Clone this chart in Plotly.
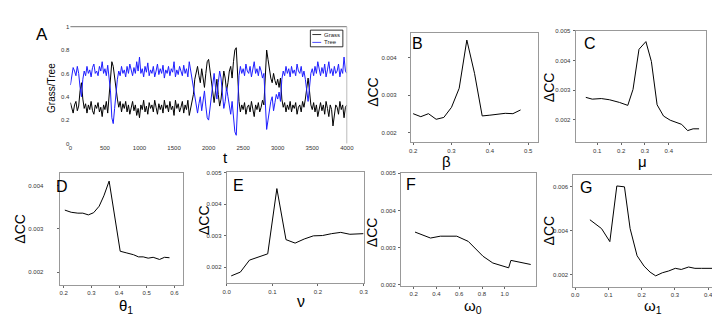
import plotly.graph_objects as go

W, H = 720, 317

# ---------------- data ----------------
t = list(range(0, 4001, 20))
tree = [
    0.50, 0.60, 0.65, 0.62, 0.58, 0.66, 0.60, 0.48, 0.40, 0.55,
    0.62, 0.58, 0.66, 0.60, 0.63, 0.57, 0.65, 0.68, 0.60, 0.62,
    0.58, 0.66, 0.62, 0.70, 0.60, 0.64, 0.58, 0.67, 0.55, 0.45,
    0.22, 0.17, 0.30, 0.45, 0.55, 0.62, 0.58, 0.66, 0.60, 0.63,
    0.57, 0.66, 0.60, 0.68, 0.62, 0.58, 0.65, 0.60, 0.70, 0.62,
    0.74, 0.60, 0.64, 0.57, 0.66, 0.61, 0.69, 0.58, 0.63, 0.60,
    0.66, 0.57, 0.62, 0.68, 0.59, 0.64, 0.60, 0.67, 0.56, 0.63,
    0.60, 0.66, 0.58, 0.64, 0.61, 0.70, 0.57, 0.63, 0.59, 0.66,
    0.62, 0.58, 0.67, 0.60, 0.64, 0.57, 0.70, 0.62, 0.58, 0.50,
    0.38, 0.30, 0.26, 0.34, 0.40, 0.28, 0.36, 0.45, 0.32, 0.22,
    0.20, 0.30, 0.42, 0.55, 0.60, 0.48, 0.38, 0.52, 0.62, 0.56,
    0.40, 0.30, 0.36, 0.48, 0.40, 0.30, 0.25, 0.36, 0.22, 0.10,
    0.07, 0.35, 0.58, 0.66, 0.60, 0.64, 0.58, 0.68, 0.62, 0.60,
    0.66, 0.57, 0.63, 0.70, 0.60, 0.64, 0.58, 0.66, 0.62, 0.56,
    0.60, 0.40, 0.12, 0.20, 0.30, 0.36, 0.40, 0.28, 0.35, 0.42,
    0.38, 0.44, 0.36, 0.55, 0.62, 0.58, 0.66, 0.60, 0.64, 0.57,
    0.66, 0.60, 0.63, 0.58, 0.68, 0.62, 0.60, 0.66, 0.57, 0.62,
    0.55, 0.42, 0.36, 0.48, 0.60, 0.64, 0.58, 0.66, 0.60, 0.70,
    0.62, 0.58, 0.65, 0.60, 0.68, 0.57, 0.63, 0.70, 0.60, 0.64,
    0.58, 0.66, 0.60, 0.62, 0.68, 0.57, 0.64, 0.60, 0.74, 0.62,
    0.60,
]
grass = [
    0.35, 0.30, 0.26, 0.33, 0.36, 0.28, 0.32, 0.45, 0.52, 0.38,
    0.30, 0.34, 0.26, 0.33, 0.29, 0.36, 0.28, 0.25, 0.33, 0.30,
    0.35, 0.27, 0.31, 0.23, 0.33, 0.29, 0.36, 0.26, 0.40, 0.50,
    0.70, 0.66, 0.55, 0.45, 0.38, 0.31, 0.36, 0.27, 0.34, 0.30,
    0.36, 0.27, 0.33, 0.25, 0.31, 0.36, 0.28, 0.33, 0.24, 0.30,
    0.22, 0.33, 0.29, 0.37, 0.27, 0.32, 0.25, 0.35, 0.30, 0.33,
    0.27, 0.37, 0.31, 0.25, 0.34, 0.29, 0.33, 0.26, 0.37, 0.30,
    0.33, 0.27, 0.36, 0.29, 0.32, 0.24, 0.37, 0.30, 0.34, 0.27,
    0.31, 0.36, 0.26, 0.33, 0.29, 0.37, 0.24, 0.31, 0.35, 0.42,
    0.55, 0.62, 0.66, 0.58, 0.52, 0.64, 0.56, 0.48, 0.60, 0.70,
    0.72, 0.62, 0.50, 0.40, 0.35, 0.45, 0.55, 0.42, 0.32, 0.38,
    0.52, 0.62, 0.56, 0.45, 0.52, 0.62, 0.66, 0.56, 0.70, 0.80,
    0.82, 0.58, 0.36, 0.27, 0.33, 0.29, 0.35, 0.25, 0.31, 0.33,
    0.27, 0.36, 0.30, 0.23, 0.33, 0.29, 0.35, 0.27, 0.31, 0.37,
    0.33, 0.52, 0.80, 0.72, 0.62, 0.56, 0.52, 0.60, 0.54, 0.50,
    0.55, 0.48, 0.56, 0.38, 0.31, 0.35, 0.27, 0.33, 0.29, 0.36,
    0.27, 0.33, 0.30, 0.35, 0.25, 0.31, 0.33, 0.27, 0.36, 0.31,
    0.38, 0.50, 0.56, 0.45, 0.33, 0.29, 0.35, 0.27, 0.33, 0.23,
    0.31, 0.35, 0.28, 0.33, 0.25, 0.36, 0.30, 0.23, 0.33, 0.29,
    0.15, 0.27, 0.33, 0.31, 0.25, 0.36, 0.29, 0.33, 0.22, 0.31,
    0.33,
]
t_ticks = [0, 500, 1000, 1500, 2000, 2500, 3000, 3500, 4000]
a_yticks = [0, 0.2, 0.4, 0.6, 0.8, 1]
a_ytext = ["0", "0.2", "0.4", "0.6", "0.8", "1"]

beta = [0.20, 0.22, 0.24, 0.26, 0.28, 0.30, 0.32, 0.34, 0.36, 0.38, 0.40, 0.44, 0.46, 0.48]
dcc_beta = [0.00251, 0.00243, 0.00251, 0.00236, 0.00241, 0.00268, 0.00319, 0.00448,
            0.00359, 0.00245, 0.00247, 0.00252, 0.00251, 0.00261]

mu = [0.052, 0.079, 0.117, 0.151, 0.193, 0.228, 0.250, 0.275, 0.304, 0.327, 0.351,
      0.378, 0.406, 0.433, 0.454, 0.479, 0.502, 0.527]
dcc_mu = [0.00276, 0.00270, 0.00272, 0.00268, 0.00259, 0.00249, 0.00303, 0.00438,
          0.00464, 0.00397, 0.00251, 0.00213, 0.00199, 0.00191, 0.00185, 0.00164,
          0.00170, 0.00170]

theta1 = [0.204, 0.227, 0.251, 0.269, 0.289, 0.308, 0.328, 0.345, 0.364, 0.404, 0.428,
          0.452, 0.470, 0.487, 0.505, 0.523, 0.546, 0.564, 0.582]
dcc_theta1 = [0.00343, 0.00338, 0.00336, 0.00336, 0.00332, 0.00337, 0.00352, 0.00376,
              0.00410, 0.00248, 0.00244, 0.00240, 0.00235, 0.00235, 0.00232, 0.00234,
              0.00229, 0.00234, 0.00233]

nu = [0.01, 0.03, 0.05, 0.07, 0.09, 0.11, 0.13, 0.15, 0.17, 0.19, 0.21, 0.23, 0.25, 0.27, 0.30]
dcc_nu = [0.00172, 0.00184, 0.00222, 0.00231, 0.00242, 0.00449, 0.00287, 0.00276,
          0.00289, 0.00299, 0.00300, 0.00306, 0.00310, 0.00304, 0.00306]

omega0 = [0.211, 0.347, 0.434, 0.578, 0.679, 0.809, 0.895, 1.034, 1.054, 1.228]
dcc_omega0 = [0.00342, 0.00326, 0.00331, 0.00331, 0.00317, 0.00277, 0.00259, 0.00246,
              0.00266, 0.00255]

omega1 = [0.044, 0.079, 0.104, 0.125, 0.148, 0.165, 0.186, 0.207, 0.225, 0.242, 0.262,
          0.281, 0.301, 0.319, 0.341, 0.360, 0.380, 0.430]
dcc_omega1 = [0.00450, 0.00410, 0.00351, 0.00603, 0.00599, 0.00410, 0.00287, 0.00240,
              0.00213, 0.00196, 0.00210, 0.00218, 0.00230, 0.00225, 0.00236, 0.00230,
              0.00230, 0.00230]

ticks_B_x = [0.2, 0.3, 0.4, 0.5]
ticks_C_x = [0.1, 0.2, 0.3, 0.4]
ticks_D_x = [0.2, 0.3, 0.4, 0.5, 0.6]
ticks_E_x = [0.0, 0.1, 0.2, 0.3]
ticks_F_x = [0.2, 0.4, 0.6, 0.8, 1.0]
ticks_G_x = [0.0, 0.1, 0.2, 0.3, 0.4]
ticks_y_234 = [0.002, 0.003, 0.004]
ticks_y_2345 = [0.002, 0.003, 0.004, 0.005]
ticks_y_246 = [0.002, 0.004, 0.006]

# ---------------- helpers ----------------
FONT = "Liberation Sans, Arial, sans-serif"


def px_x(p):
    return p / W


def px_y(p):
    return 1 - p / H


fig = go.Figure()
layout = dict(
    width=W, height=H, margin=dict(l=0, r=0, t=0, b=0),
    paper_bgcolor="white", plot_bgcolor="white", showlegend=False,
    font=dict(family=FONT, color="#222"),
)
annotations = []
shapes = []

# Panel A
fig.add_trace(go.Scatter(x=t, y=grass, mode="lines", name="Grass",
                         line=dict(color="black", width=1), xaxis="x", yaxis="y"))
fig.add_trace(go.Scatter(x=t, y=tree, mode="lines", name="Tree",
                         line=dict(color="rgb(30,30,255)", width=1), xaxis="x", yaxis="y"))
layout["xaxis"] = dict(domain=[px_x(59.3), px_x(340)], range=[0, 4000], anchor="y",
                       showline=False, showgrid=False, zeroline=False, ticks="",
                       tickvals=t_ticks, tickfont=dict(size=6, color="#333"))
layout["yaxis"] = dict(domain=[px_y(135), px_y(16)], range=[0, 1], anchor="x",
                       showline=False, showgrid=False, zeroline=False, ticks="",
                       tickvals=a_yticks, ticktext=a_ytext, tickfont=dict(size=6, color="#333"))
shapes.append(dict(type="line", xref="x domain", yref="y domain", x0=0, x1=1, y0=1, y1=1,
                   line=dict(color="#777", width=1)))
shapes.append(dict(type="line", xref="x domain", yref="y domain", x0=1, x1=1, y0=0, y1=1,
                   line=dict(color="#bbb", width=1)))
# manual legend
shapes.append(dict(type="rect", xref="paper", yref="paper", x0=px_x(303), x1=px_x(336),
                   y0=px_y(36.5), y1=px_y(19.5), line=dict(color="black", width=0.8),
                   fillcolor="white", layer="above"))
shapes.append(dict(type="line", xref="paper", yref="paper", x0=px_x(305), x1=px_x(314),
                   y0=px_y(24), y1=px_y(24), line=dict(color="black", width=0.8)))
shapes.append(dict(type="line", xref="paper", yref="paper", x0=px_x(305), x1=px_x(314),
                   y0=px_y(32), y1=px_y(32), line=dict(color="rgb(30,30,255)", width=0.8)))
annotations.append(dict(text="Grass", x=px_x(315), y=px_y(24), xref="paper", yref="paper",
                        xanchor="left", yanchor="middle", showarrow=False,
                        font=dict(size=6, color="#222")))
annotations.append(dict(text="Tree", x=px_x(315), y=px_y(32), xref="paper", yref="paper",
                        xanchor="left", yanchor="middle", showarrow=False,
                        font=dict(size=6, color="#222")))

panels = [
    # letter, x, y, frame x px, frame y px, xrange, yrange, xticks, yticks, label gap
    ("B", beta, dcc_beta, (405, 534), (22, 134), (0.194, 0.525), (0.00174, 0.00468),
     ticks_B_x, ticks_y_234, 10),
    ("C", mu, dcc_mu, (572.3, 705), (20, 134), (0.009, 0.557), (0.00124, 0.00501),
     ticks_C_x, ticks_y_2345, 1),
    ("D", theta1, dcc_theta1, (48.3, 174), (165, 279.3), (0.185, 0.632), (0.0017, 0.00429),
     ticks_D_x, ticks_y_234, 12),
    ("E", nu, dcc_nu, (218, 357), (164.3, 277.7), (0.0, 0.3), (0.00148, 0.00501),
     ticks_E_x, ticks_y_2345, 1),
    ("F", omega0, dcc_omega0, (395, 532.3), (165, 280), (0.0874, 1.276), (0.00198, 0.00501),
     ticks_F_x, ticks_y_2345, 1),
    ("G", omega1, dcc_omega1, (570, 718), (167.3, 281), (-0.006, 0.4326), (0.00147, 0.00652),
     ticks_G_x, ticks_y_246, 1),
]

for i, (letter, xs, ys, fx, fy, xr, yr, xt, yt, gap) in enumerate(panels, start=2):
    xa, ya = f"x{i}", f"y{i}"
    fig.add_trace(go.Scatter(x=xs, y=ys, mode="lines", line=dict(color="black", width=1),
                             xaxis=xa, yaxis=ya, name=letter))
    common = dict(showline=True, linecolor="#999", linewidth=1, mirror=True,
                  showgrid=False, zeroline=False, ticks="outside", ticklen=2,
                  tickcolor="#666", tickfont=dict(size=6, color="#333"))
    layout[f"xaxis{i}"] = dict(domain=[px_x(fx[0]), px_x(fx[1])], range=list(xr), anchor=ya,
                               tickvals=xt, tickformat=".1f", **common)
    layout[f"yaxis{i}"] = dict(domain=[px_y(fy[1]), px_y(fy[0])], range=list(yr), anchor=xa,
                               tickvals=yt, tickformat=".3f", ticklabelstandoff=gap, **common)

# ---------------- text labels ----------------
def label(text, x, y, size, angle=0):
    annotations.append(dict(text=text, x=px_x(x), y=px_y(y), xref="paper", yref="paper",
                            xanchor="center", yanchor="middle", showarrow=False,
                            textangle=angle, font=dict(size=size, color="black", family=FONT)))

# panel letters
label("A", 30, 24, 17)
label("B", 412, 33, 16)
label("C", 587, 33, 16)
label("D", 51, 179, 16)
label("E", 230, 178, 16)
label("F", 405, 177, 16)
label("G", 583, 180, 16)

# y-axis titles
label("Grass/Tree", 40, 78, 10, -90)
label("ΔCC", 367, 82, 14, -90)
label("ΔCC", 545, 78, 14, -90)
label("ΔCC", 8, 222, 14, -90)
label("ΔCC", 195, 213, 14, -90)
label("ΔCC", 365, 225, 14, -90)
label("ΔCC", 545, 224, 14, -90)

# x-axis titles
label("t", 217, 149, 15)
label("β", 441, 153, 15)
label("μ", 640, 153, 15)
label("θ<sub>1</sub>", 116, 301, 15)
label("ν", 293, 296, 16)
label("ω<sub>0</sub>", 468, 301, 15)
label("ω<sub>1</sub>", 651, 301, 15)

layout["annotations"] = annotations
layout["shapes"] = shapes
fig.update_layout(**layout)
fig.write_html("out.html")
